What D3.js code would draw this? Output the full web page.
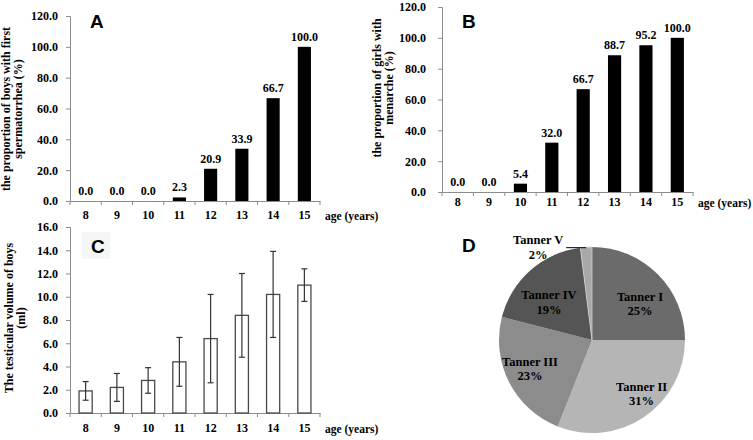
<!DOCTYPE html>
<html><head><meta charset="utf-8">
<script src="https://cdn.jsdelivr.net/npm/d3@7"></script>
<style>
html,body{margin:0;padding:0;background:#fff;}
svg{display:block;}
text{font-family:"Liberation Serif","Times New Roman",serif;font-weight:bold;fill:#000;}
.letter{font-family:"Liberation Sans",Arial,sans-serif;font-weight:bold;}
</style></head>
<body>
<svg id="c" width="753" height="440"></svg>
<script>
// ---------- data ----------
const ages = ["8","9","10","11","12","13","14","15"];
const boysSpermarche = [0.0, 0.0, 0.0, 2.3, 20.9, 33.9, 66.7, 100.0];
const girlsMenarche = [0.0, 0.0, 5.4, 32.0, 66.7, 88.7, 95.2, 100.0];
const testisMean = [1.9, 2.2, 2.8, 4.4, 6.4, 8.4, 10.2, 11.0];
const testisSD = [0.8, 1.2, 1.1, 2.1, 3.8, 3.6, 3.7, 1.4];
const tannerStages = ["Tanner I","Tanner II","Tanner III","Tanner IV","Tanner V"];
const tannerPct = [25, 31, 23, 19, 2];
const pctTicks = [0,20,40,60,80,100,120];
const volTicks = [0,2,4,6,8,10,12,14,16];

const svg = d3.select("#c");
const axisCol = "#8c8c8c";

function panel(o){
  const g = svg.append("g");
  const x = d3.scaleBand().domain(ages).range([o.x0, o.x1]).padding(0);
  const y = d3.scaleLinear().domain(o.domain).range([o.y0, o.y1]);
  const ya = g.append("g").attr("transform",`translate(${o.x0},0)`)
    .call(d3.axisLeft(y).tickValues(o.ticks).tickFormat(d3.format(".1f")).tickSize(4).tickPadding(o.tpad));
  const xa = g.append("g").attr("transform",`translate(0,${o.y0})`)
    .call(d3.axisBottom(x).tickSize(0).tickPadding(o.xpad));
  [ya,xa].forEach(a=>{
    a.attr("font-family",null);
    a.selectAll("path.domain").attr("stroke",axisCol).attr("stroke-width",1);
    a.selectAll("line").attr("stroke",axisCol);
    a.selectAll("text").attr("font-size",12).attr("fill","#000");
  });
  const bounds = ages.map(a=>x(a)).concat([x(ages[ages.length-1])+x.bandwidth()]);
  g.selectAll("line.xt").data(bounds).enter().append("line")
    .attr("x1",d=>d).attr("x2",d=>d).attr("y1",o.y0).attr("y2",o.y0+4).attr("stroke",axisCol);
  g.append("text").attr("x",o.x1+5).attr("y",o.y0+o.xpad+10).attr("font-size",11.5).text("age (years)");
  const tt = g.append("text").attr("transform",`translate(${o.tx},${o.ty}) rotate(-90)`)
    .attr("text-anchor","middle").attr("font-size",12);
  o.title.forEach((t,i)=>tt.append("tspan").attr("x",0).attr("dy",i?12:0).text(t));
  return {g,x,y};
}

function barPanel(o, vals){
  const {g,x,y} = panel(o);
  const bw = x.bandwidth()*0.42;
  g.selectAll("rect.b").data(vals).enter().append("rect")
    .attr("x",(d,i)=>x(ages[i])+x.bandwidth()/2-bw/2)
    .attr("y",d=>y(d)).attr("width",bw).attr("height",d=>y(0)-y(d)).attr("fill","#000");
  g.selectAll("text.v").data(vals).enter().append("text")
    .attr("x",(d,i)=>x(ages[i])+x.bandwidth()/2).attr("y",d=>y(d)-6)
    .attr("text-anchor","middle").attr("font-size",12).text(d=>d.toFixed(1));
  g.append("text").attr("class","letter").attr("x",o.lx).attr("y",o.ly).attr("font-size",19).text(o.letter);
}

barPanel({x0:70,x1:320,y0:201,y1:16,domain:[0,120],ticks:pctTicks,tpad:8,xpad:9,
  tx:10,ty:109,title:["the proportion of boys with first","spermatorrhea (%)"],letter:"A",lx:90,ly:28}, boysSpermarche);
barPanel({x0:442,x1:693,y0:192,y1:7,domain:[0,120],ticks:pctTicks,tpad:12,xpad:5,
  tx:381,ty:88,title:["the proportion of girls with","menarche  (%)"],letter:"B",lx:462,ly:28}, girlsMenarche);

// Panel C
(function(){
  const o = {x0:70,x1:320,y0:413,y1:227,domain:[0,16],ticks:volTicks,tpad:8,xpad:10,
    tx:13,ty:318,title:["The testicular volume of boys","(ml)"]};
  const {g,x,y} = panel(o);
  const bw = x.bandwidth()*0.42;
  const cx = i=>x(ages[i])+x.bandwidth()/2;
  g.selectAll("rect.b").data(testisMean).enter().append("rect")
    .attr("x",(d,i)=>cx(i)-bw/2).attr("y",d=>y(d)).attr("width",bw).attr("height",d=>y(0)-y(d))
    .attr("fill","#fff").attr("stroke","#4a4a4a").attr("stroke-width",1.3);
  const eb = g.selectAll("g.e").data(testisMean).enter().append("g").attr("stroke","#333").attr("stroke-width",1.2);
  eb.append("line").attr("x1",(d,i)=>cx(i)).attr("x2",(d,i)=>cx(i))
    .attr("y1",(d,i)=>y(d-testisSD[i])).attr("y2",(d,i)=>y(d+testisSD[i]));
  eb.append("line").attr("x1",(d,i)=>cx(i)-3).attr("x2",(d,i)=>cx(i)+3)
    .attr("y1",(d,i)=>y(d+testisSD[i])).attr("y2",(d,i)=>y(d+testisSD[i]));
  eb.append("line").attr("x1",(d,i)=>cx(i)-3).attr("x2",(d,i)=>cx(i)+3)
    .attr("y1",(d,i)=>y(d-testisSD[i])).attr("y2",(d,i)=>y(d-testisSD[i]));
  g.append("rect").attr("x",82).attr("y",232).attr("width",28).attr("height",27).attr("fill","#f6f6f6");
  g.append("text").attr("class","letter").attr("x",91).attr("y",253).attr("font-size",19).text("C");
})();

// Panel D pie
(function(){
  const cx=592, cy=340, r=93;
  const colors = ["#6b6b6b","#b5b5b5","#8c8c8c","#555555","#a8a8a8"];
  const pie = d3.pie().sort(null).value(d=>d)(tannerPct);
  const arc = d3.arc().innerRadius(0).outerRadius(r);
  const labArc = d3.arc().innerRadius(r*0.7).outerRadius(r*0.7);
  const g = svg.append("g").attr("transform",`translate(${cx},${cy})`);
  g.selectAll("path").data(pie).enter().append("path").attr("d",arc)
    .attr("fill",(d,i)=>colors[i]).attr("stroke",(d,i)=>i===4?"#d0d0d0":"none").attr("stroke-width",0.8);
  const nudge = [[2,7],[13,-3],[-4,-4],[0,8]];
  pie.forEach((d,i)=>{
    let px, py;
    if(i<4){
      const c = labArc.centroid(d);
      px = c[0]+nudge[i][0]; py = c[1]+nudge[i][1];
    } else {
      const a = (d.startAngle+d.endAngle)/2;
      const ex = Math.sin(a)*r, ey = -Math.cos(a)*r;
      g.append("line").attr("x1",ex).attr("y1",ey+0.5).attr("x2",ex-20).attr("y2",ey+0.5).attr("stroke","#000").attr("stroke-width",1);
      px = ex-48; py = ey-3;
    }
    const t = g.append("text").attr("text-anchor","middle").attr("font-size",12.5)
      .attr("x",px).attr("y",py);
    t.append("tspan").attr("x",px).text(tannerStages[i]);
    t.append("tspan").attr("x",px).attr("dy",14.5).text(d.data+"%");
  });
  svg.append("text").attr("class","letter").attr("x",462).attr("y",252).attr("font-size",19).text("D");
})();
</script>
</body></html>
